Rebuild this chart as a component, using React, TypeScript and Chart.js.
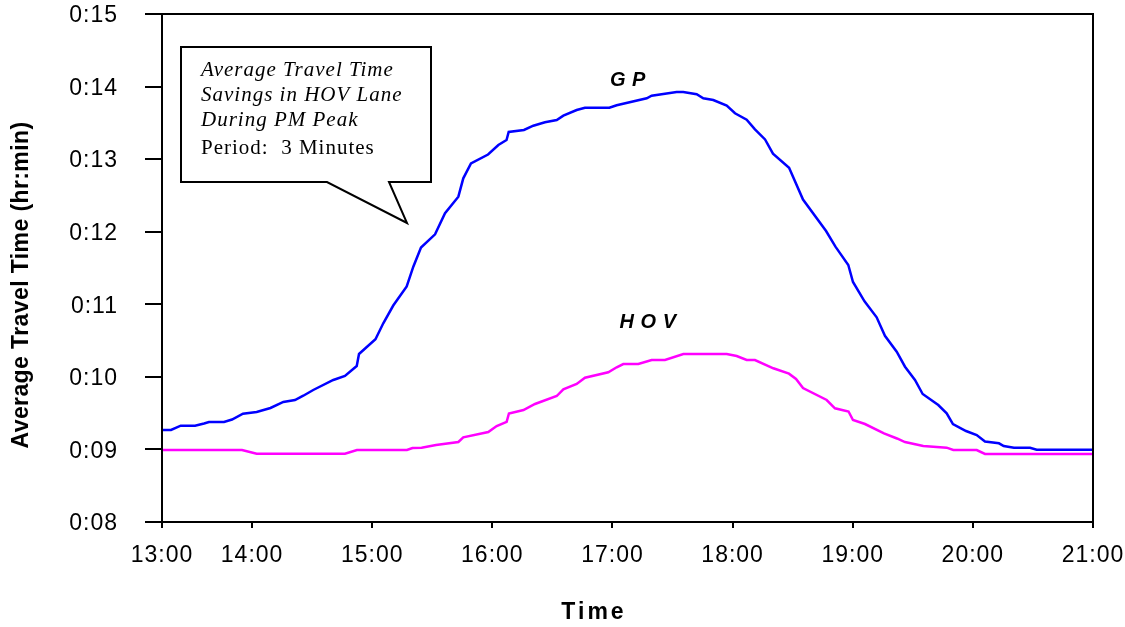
import React, { useEffect, useRef } from "react";
import { Chart, registerables } from "chart.js";

Chart.register(...registerables);

// Time of day in decimal hours (the axis starts at 13:15 but its first label reads "13:00")
const GP_TIMES = [
  13.25, 13.325, 13.406, 13.525, 13.6, 13.641, 13.766, 13.833, 13.924, 14.038,
  14.153, 14.26, 14.357, 14.426, 14.509, 14.676, 14.773, 14.871, 14.89, 15.027,
  15.092, 15.175, 15.287, 15.342, 15.406, 15.523, 15.606, 15.717, 15.758, 15.822,
  15.964, 16.05, 16.118, 16.136, 16.263, 16.341, 16.438, 16.536, 16.591, 16.702,
  16.771, 16.974, 17.035, 17.285, 17.326, 17.534, 17.589, 17.701, 17.756, 17.839,
  17.951, 18.02, 18.117, 18.186, 18.27, 18.336, 18.47, 18.586, 18.778, 18.856,
  18.963, 19.002, 19.098, 19.199, 19.268, 19.366, 19.435, 19.518, 19.582, 19.712,
  19.782, 19.834, 19.943, 20.032, 20.101, 20.217, 20.257, 20.342, 20.476, 20.531,
  21.0,
];
// Average travel time in minutes
const GP_VALUES = [
  9.268, 9.268, 9.327, 9.327, 9.357, 9.378, 9.378, 9.412, 9.492, 9.516,
  9.571, 9.654, 9.681, 9.74, 9.819, 9.957, 10.012, 10.15, 10.315, 10.518,
  10.738, 10.983, 11.245, 11.518, 11.783, 11.964, 12.254, 12.483, 12.736, 12.94,
  13.064, 13.195, 13.264, 13.374, 13.402, 13.461, 13.508, 13.539, 13.599, 13.677,
  13.709, 13.709, 13.742, 13.839, 13.874, 13.925, 13.925, 13.894, 13.839, 13.815,
  13.737, 13.632, 13.544, 13.411, 13.271, 13.075, 12.882, 12.443, 12.01, 11.794,
  11.541, 11.307, 11.041, 10.821, 10.566, 10.347, 10.14, 9.957, 9.764, 9.612,
  9.498, 9.35, 9.254, 9.199, 9.109, 9.084, 9.047, 9.024, 9.024, 8.995,
  8.995,
];

const HOV_TIMES = [
  13.25, 13.916, 14.038, 14.773, 14.873, 15.289, 15.335, 15.411, 15.531, 15.717,
  15.758, 15.966, 16.036, 16.119, 16.138, 16.259, 16.355, 16.536, 16.591, 16.702,
  16.771, 16.965, 17.035, 17.09, 17.215, 17.326, 17.437, 17.59, 17.951, 18.034,
  18.117, 18.186, 18.339, 18.469, 18.528, 18.586, 18.783, 18.852, 18.965, 19.002,
  19.102, 19.26, 19.368, 19.435, 19.587, 19.782, 19.837, 20.032, 20.101, 21.0,
];
const HOV_VALUES = [
  8.992, 8.992, 8.94, 8.94, 8.992, 8.992, 9.02, 9.024, 9.061, 9.102,
  9.167, 9.24, 9.323, 9.381, 9.495, 9.543, 9.626, 9.736, 9.829, 9.902,
  9.988, 10.063, 10.132, 10.177, 10.177, 10.232, 10.232, 10.315, 10.315, 10.287,
  10.232, 10.232, 10.118, 10.044, 9.971, 9.846, 9.681, 9.567, 9.523, 9.406,
  9.35, 9.22, 9.151, 9.102, 9.047, 9.024, 8.992, 8.992, 8.937, 8.937,
];

const X_TICK_VALUES = [13.25, 14, 15, 16, 17, 18, 19, 20, 21];
const X_TICK_LABELS = ["13:00", "14:00", "15:00", "16:00", "17:00", "18:00", "19:00", "20:00", "21:00"];
const Y_TICK_VALUES = [8, 9, 10, 11, 12, 13, 14, 15];
const Y_TICK_LABELS = ["0:08", "0:09", "0:10", "0:11", "0:12", "0:13", "0:14", "0:15"];

const SERIES_NAMES = ["G P", "H O V"];
// label anchors (data coordinates: hour, minutes)
const SERIES_LABEL_AT = [
  { x: 17.129, y: 14.008 },
  { x: 17.296, y: 10.673 },
];

const CALLOUT_ITALIC_LINES = ["Average Travel Time", "Savings in HOV Lane", "During PM Peak"];
const CALLOUT_PLAIN_LINE = "Period:  3 Minutes";

const X_TITLE = "Time";
const Y_TITLE = "Average Travel Time (hr:min)";

export default function App() {
  const ref = useRef<HTMLCanvasElement | null>(null);

  useEffect(() => {
    document.body.style.margin = "0";
    const canvas = ref.current;
    if (!canvas) return;

    const spacing = {
      id: "spacing",
      beforeDraw(chart: any) {
        (chart.ctx as any).letterSpacing = "1px";
      },
      afterDraw(chart: any) {
        (chart.ctx as any).letterSpacing = "0px";
      },
    };

    const overlay = {
      id: "overlay",
      afterDraw(chart: any) {
        const ctx = chart.ctx as CanvasRenderingContext2D & { letterSpacing?: string };
        const a = chart.chartArea;
        const xs = chart.scales.x;
        const ys = chart.scales.y;
        ctx.save();
        // plot frame
        ctx.strokeStyle = "#000";
        ctx.lineWidth = 2;
        ctx.strokeRect(a.left, a.top, a.right - a.left, a.bottom - a.top);

        // series labels
        ctx.fillStyle = "#000";
        ctx.letterSpacing = "0.5px";
        ctx.font = "italic bold 20px 'Liberation Sans'";
        ctx.textAlign = "center";
        ctx.textBaseline = "alphabetic";
        SERIES_NAMES.forEach((name, i) => {
          const p = SERIES_LABEL_AT[i];
          ctx.fillText(name, xs.getPixelForValue(p.x), ys.getPixelForValue(p.y));
        });

        // callout box
        const L = a.left + 19;
        const T = a.top + 33;
        const R = a.left + 269;
        const B = a.top + 168;
        ctx.beginPath();
        ctx.moveTo(L, T);
        ctx.lineTo(R, T);
        ctx.lineTo(R, B);
        ctx.lineTo(a.left + 227, B);
        ctx.lineTo(a.left + 245, a.top + 209);
        ctx.lineTo(a.left + 165, B);
        ctx.lineTo(L, B);
        ctx.closePath();
        ctx.fillStyle = "#fff";
        ctx.fill();
        ctx.lineWidth = 2;
        ctx.strokeStyle = "#000";
        ctx.lineJoin = "miter";
        ctx.stroke();

        ctx.fillStyle = "#000";
        ctx.textAlign = "left";
        ctx.letterSpacing = "1px";
        ctx.font = "italic 21px 'Liberation Serif'";
        CALLOUT_ITALIC_LINES.forEach((t, i) => {
          ctx.fillText(t, L + 20, a.top + 62 + i * 25);
        });
        ctx.font = "21px 'Liberation Serif'";
        ctx.fillText(CALLOUT_PLAIN_LINE, L + 20, a.top + 140);

        // axis titles
        ctx.font = "bold 23px 'Liberation Sans'";
        ctx.textAlign = "center";
        ctx.textBaseline = "middle";
        ctx.letterSpacing = "3px";
        ctx.fillText(X_TITLE, 594, 613);
        ctx.letterSpacing = "0.4px";
        ctx.translate(22, 285);
        ctx.rotate(-Math.PI / 2);
        ctx.fillText(Y_TITLE, 0, 0);
        ctx.restore();
      },
    };

    const chart = new Chart(canvas, {
      type: "line",
      data: {
        datasets: [
          {
            label: "GP",
            data: GP_TIMES.map((t, i) => ({ x: t, y: GP_VALUES[i] })),
            borderColor: "#0000FF",
            borderWidth: 2.5,
            pointRadius: 0,
            tension: 0,
            fill: false,
          },
          {
            label: "HOV",
            data: HOV_TIMES.map((t, i) => ({ x: t, y: HOV_VALUES[i] })),
            borderColor: "#FF00FF",
            borderWidth: 2.5,
            pointRadius: 0,
            tension: 0,
            fill: false,
          },
        ],
      },
      options: {
        animation: false,
        responsive: false,
        maintainAspectRatio: false,
        layout: { padding: { left: 0, top: 14, right: 32, bottom: 0 } },
        plugins: {
          legend: { display: false },
          tooltip: { enabled: false },
          title: { display: false },
        },
        scales: {
          x: {
            type: "linear",
            min: 13.25,
            max: 21,
            afterBuildTicks: (s: any) => {
              s.ticks = X_TICK_VALUES.map((v) => ({ value: v }));
            },
            afterFit: (s: any) => {
              s.height = 105;
              s.paddingLeft = 0;
              s.paddingRight = 0;
            },
            ticks: {
              autoSkip: false,
              maxRotation: 0,
              color: "#000",
              padding: 14,
              font: { family: "'Liberation Sans'", size: 23 },
              callback: (v: any) => {
                const i = X_TICK_VALUES.indexOf(Number(v));
                return i >= 0 ? X_TICK_LABELS[i] : "";
              },
            },
            grid: {
              display: true,
              drawOnChartArea: false,
              drawTicks: true,
              tickLength: 6,
              color: "#000",
              lineWidth: 2,
            },
            border: { display: true, color: "#000", width: 2 },
          },
          y: {
            type: "linear",
            min: 8,
            max: 15,
            afterBuildTicks: (s: any) => {
              s.ticks = Y_TICK_VALUES.map((v) => ({ value: v }));
            },
            afterFit: (s: any) => {
              s.width = 162;
              s.paddingTop = 0;
              s.paddingBottom = 0;
            },
            ticks: {
              color: "#000",
              padding: 27,
              labelOffset: 2,
              font: { family: "'Liberation Sans'", size: 23 },
              callback: (v: any) => {
                const i = Y_TICK_VALUES.indexOf(Number(v));
                return i >= 0 ? Y_TICK_LABELS[i] : "";
              },
            },
            grid: {
              display: true,
              drawOnChartArea: false,
              drawTicks: true,
              tickLength: 17,
              color: "#000",
              lineWidth: 2,
            },
            border: { display: true, color: "#000", width: 2 },
          },
        },
      },
      plugins: [spacing, overlay],
    });

    return () => chart.destroy();
  }, []);

  return (
    <div style={{ position: "absolute", left: 0, top: 0, width: 1125, height: 627, background: "#fff" }}>
      <canvas ref={ref} width={1125} height={627} style={{ width: 1125, height: 627, display: "block" }} />
    </div>
  );
}
